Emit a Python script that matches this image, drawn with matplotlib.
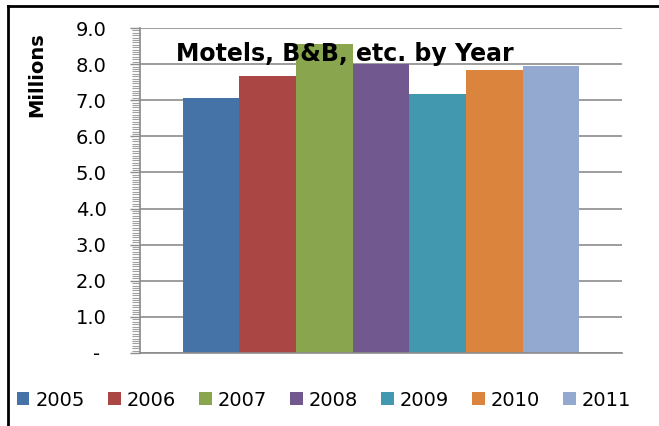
import matplotlib
matplotlib.use("Agg")
import matplotlib.pyplot as plt
from matplotlib.patches import Patch
from matplotlib.lines import Line2D
from matplotlib.ticker import MultipleLocator, FuncFormatter

years = ["2005", "2006", "2007", "2008", "2009", "2010", "2011"]
values = [7.07, 7.66, 8.56, 8.00, 7.18, 7.84, 7.96]
colors = ["#4572A7", "#AA4643", "#89A54E", "#71588F", "#4198AF", "#DB843D", "#93A9CF"]
y_ticks = [0, 1, 2, 3, 4, 5, 6, 7, 8, 9]

plt.rcParams["font.family"] = ["DejaVu Sans"]

W, H = 659, 426
fig = plt.figure(figsize=(W / 100, H / 100), dpi=100)
ax = fig.add_axes([140 / W, 1 - 353 / H, (622 - 140) / W, (353 - 28) / H])

# Excel style: one category, 7 series, gap width 150%
bw = 1 / 8.5
for i, (yr, v, c) in enumerate(zip(years, values, colors)):
    ax.bar((i - 3) * bw, v, width=bw, color=c, zorder=2)

ax.set_xlim(-0.5, 0.5)
ax.set_ylim(0, 9)
ax.set_xticks([])
ax.set_yticks(y_ticks)
ax.yaxis.set_minor_locator(MultipleLocator(1 / 15))
ax.yaxis.set_major_formatter(FuncFormatter(lambda v, p: "- " if v == 0 else f"{v:.1f}"))
ax.grid(axis="y", color="#8c8c8c", linewidth=1.2, zorder=0)
ax.set_axisbelow(True)
for s in ["top", "right"]:
    ax.spines[s].set_visible(False)
for s in ["left", "bottom"]:
    ax.spines[s].set_color("#8c8c8c")
    ax.spines[s].set_linewidth(1.2)
ax.tick_params(axis="y", which="major", length=7, width=1, color="#8c8c8c",
               labelsize=14, pad=17)
ax.tick_params(axis="y", which="minor", length=6, width=0.8, color="#a0a0a0")

fig.text(37 / W, 1 - 75 / H, "Millions", rotation=90, fontsize=14,
         fontweight="bold", ha="center", va="center")
fig.text(176 / W, 1 - 61 / H, "Motels, B&B, etc. by Year", fontsize=17,
         fontweight="bold", ha="left", va="baseline", zorder=5)

handles = [Patch(facecolor=c, edgecolor="none") for c in colors]
fig.legend(handles, years, loc="center", bbox_to_anchor=(324 / W, 1 - 400 / H),
           ncol=7, frameon=False, fontsize=14, handlelength=0.65, handleheight=0.65,
           handletextpad=0.3, columnspacing=1.2)

# chart border (right/bottom cut off in the original)
fig.add_artist(Line2D([8 / W, 8 / W], [0, 1 - 6 / H], color="black", lw=2))
fig.add_artist(Line2D([8 / W, 1], [1 - 6 / H, 1 - 6 / H], color="black", lw=2))

fig.savefig("out.png", dpi=100)
